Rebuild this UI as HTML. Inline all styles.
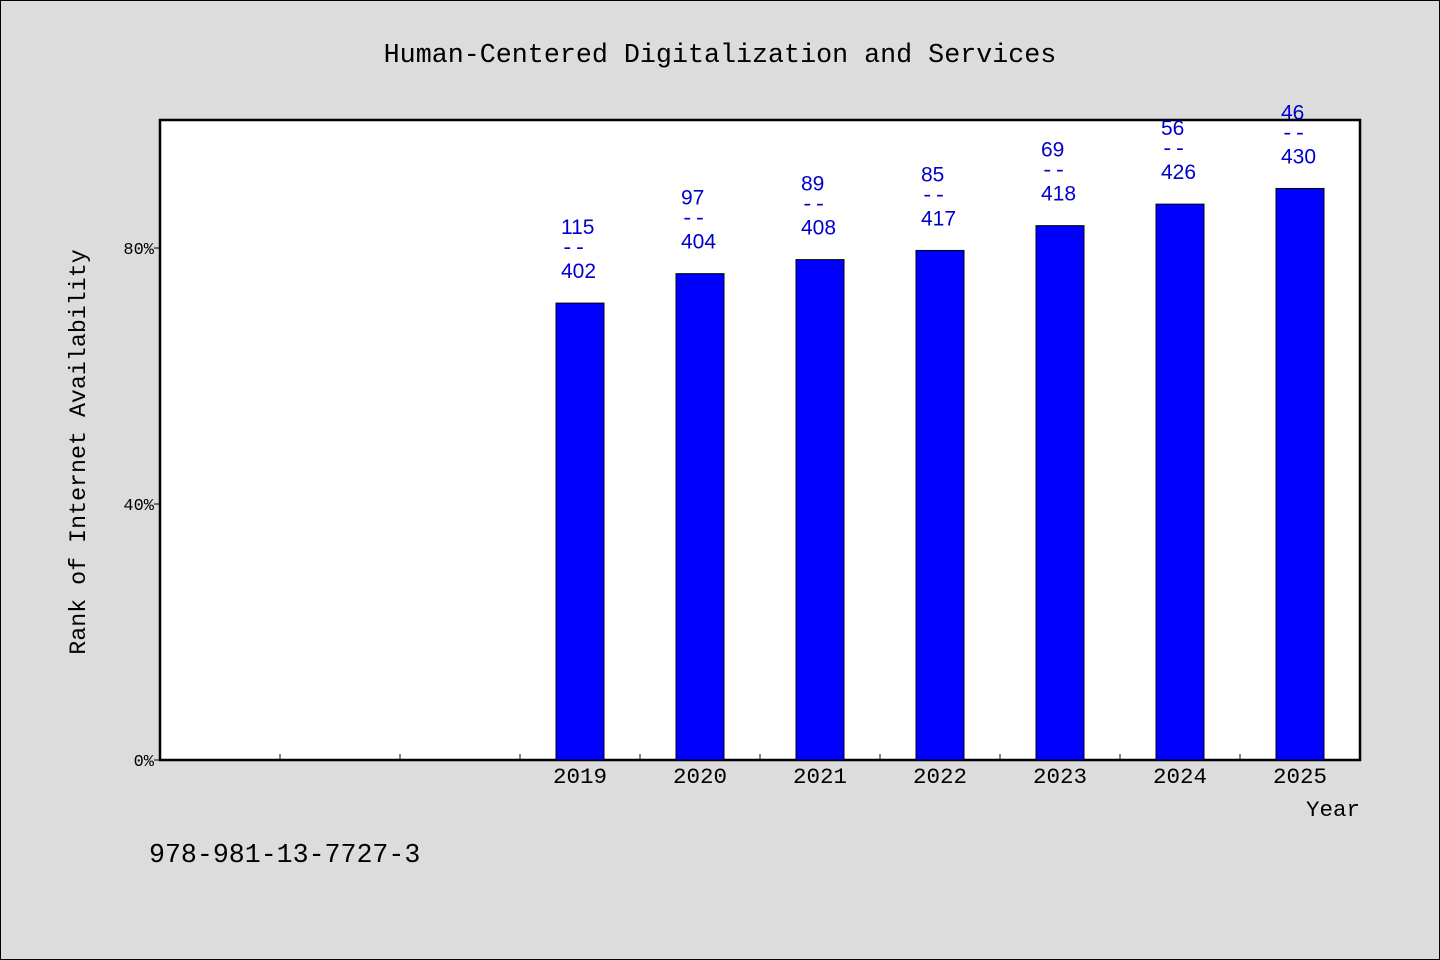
<!DOCTYPE html>
<html><head><meta charset="utf-8"><style>
html,body{margin:0;padding:0;background:#dcdcdc;}
svg{display:block;}
</style></head><body>
<svg width="1440" height="960" xmlns="http://www.w3.org/2000/svg">
<rect x="0.5" y="0.5" width="1439" height="959" fill="#dcdcdc" stroke="#000"/>
<text x="720" y="62" text-anchor="middle" font-family="'Liberation Mono', monospace" font-size="26.7" fill="#000">Human-Centered Digitalization and Services</text>
<rect x="160" y="120" width="1200" height="640" fill="#fff" stroke="#000" stroke-width="2.5"/>
<g id="axes"></g>
<g id="bars"></g>
<text transform="translate(85,452) rotate(-90)" text-anchor="middle" font-family="'Liberation Mono', monospace" font-size="23.3" fill="#000">Rank of Internet Availability</text>
<text x="1360" y="816" text-anchor="end" font-family="'Liberation Mono', monospace" font-size="22.5" fill="#000">Year</text>
<text x="149" y="862" font-family="'Liberation Mono', monospace" font-size="26.6" fill="#000">978-981-13-7727-3</text>
</svg>
<script>
const categories = ["", "", "", "2019", "2020", "2021", "2022", "2023", "2024", "2025"];
const ranks = [null, null, null, 115, 97, 89, 85, 69, 56, 46];
const totals = [null, null, null, 402, 404, 408, 417, 418, 426, 430];
const yTicks = [0, 40, 80];
const yTickLabels = ["0%", "40%", "80%"];

const NS = "http://www.w3.org/2000/svg";
const x0 = 160, x1 = 1360, y0 = 760, y1 = 120;
const slot = (x1 - x0) / categories.length;
const xc = i => x0 + slot * (i + 0.5);
const yScale = p => y0 - p * 6.4;
function mk(tag, attrs, parent, text) {
  const e = document.createElementNS(NS, tag);
  for (const k in attrs) e.setAttribute(k, attrs[k]);
  if (text !== undefined) e.textContent = text;
  parent.appendChild(e);
  return e;
}
const axes = document.getElementById('axes');
yTicks.forEach((t, i) => {
  const y = yScale(t);
  const l = mk('line', {x1: x0 - 6, x2: x0, y1: y, y2: y, stroke: '#000'}, axes);
  
  
  const tx = mk('text', {x: x0 - 6, y: y + 6, 'text-anchor': 'end', 'font-family': "'Liberation Mono', monospace", 'font-size': 17}, axes, yTickLabels[i]);
  
  
});
for (let i = 1; i < categories.length; i++) {
  const x = x0 + slot * i;
  const l = mk('line', {x1: x, x2: x, y1: y0 - 6, y2: y0, stroke: '#000'}, axes);
  
  
}
const bars = document.getElementById('bars');
categories.forEach((c, i) => {
  if (c) {
    const tx = mk('text', {x: xc(i), y: y0 + 23, 'text-anchor': 'middle', 'font-family': "'Liberation Mono', monospace", 'font-size': 22.5}, axes, c);
    
    
  }
  if (ranks[i] == null) return;
  const p = (1 - ranks[i] / totals[i]) * 100;
  const top = yScale(p);
  const r = mk('rect', {x: xc(i) - 24, y: top, width: 48, height: y0 - top, fill: '#0000ff', stroke: '#000', 'stroke-width': 1}, bars);
  
  
  const lx = xc(i) - 19;
  const g = mk('text', {'font-family': "'Liberation Sans', sans-serif", 'font-size': 21, fill: '#0000cc'}, bars);
  
  
  mk('tspan', {x: lx, y: top - 69}, g, String(ranks[i]));
  const d = mk('tspan', {x: lx, y: top - 49, 'font-family': "'Liberation Mono', monospace"}, g, '--');
  mk('tspan', {x: lx, y: top - 25}, g, String(totals[i]));
});
</script>
</body></html>
